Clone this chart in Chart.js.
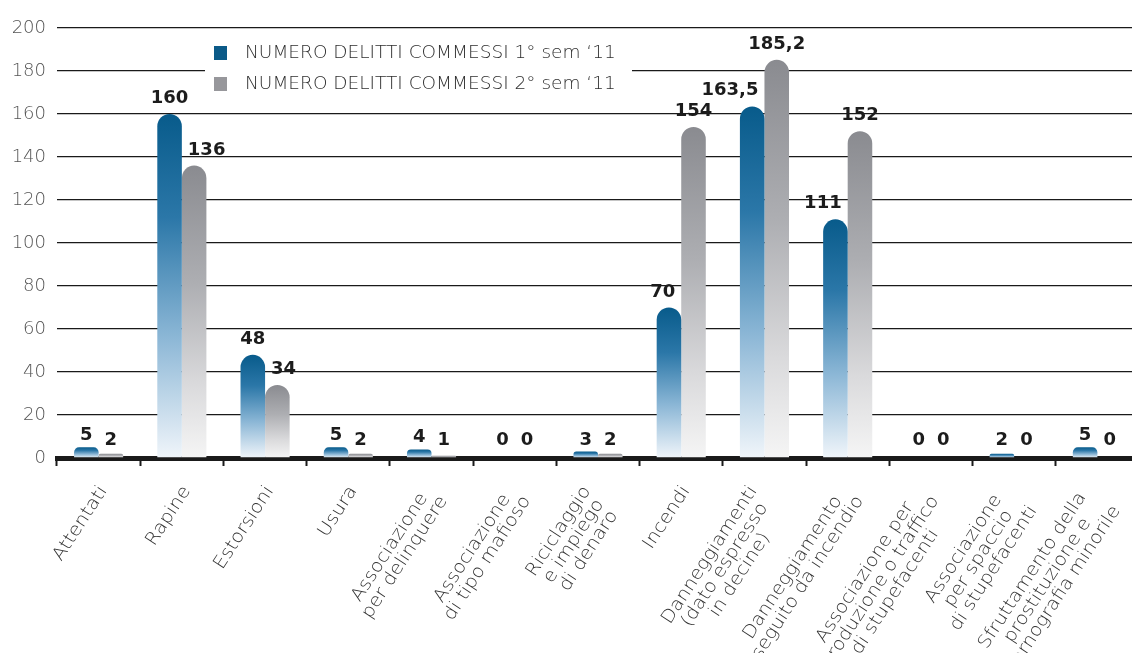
<!DOCTYPE html>
<html>
<head>
<meta charset="utf-8">
<title>Delitti commessi 2011</title>
<script src="https://cdn.jsdelivr.net/npm/chart.js@4.4.1/dist/chart.umd.min.js"></script>
<style>
  html, body { margin: 0; padding: 0; background: #fff; overflow: hidden; }
  #wrap { width: 1132px; height: 653px; overflow: hidden; }
</style>
</head>
<body>
<div id="wrap"><canvas id="delitti" width="1150" height="653"></canvas></div>
<script>
var categories = [
  "Attentati",
  "Rapine",
  "Estorsioni",
  "Usura",
  ["Associazione", "per delinquere"],
  ["Associazione", "di tipo mafioso"],
  ["Riciclaggio", "e impiego", "di denaro"],
  "Incendi",
  ["Danneggiamenti", "(dato espresso", "in decine)"],
  ["Danneggiamento", "seguito da incendio"],
  ["Associazione per", "produzione o traffico", "di stupefacenti"],
  ["Associazione", "per spaccio", "di stupefacenti"],
  ["Sfruttamento della", "prostituzione e", "pornografia minorile"]
];
var sem1 = [5, 160, 48, 5, 4, 0, 3, 70, 163.5, 111, 0, 2, 5];
var sem2 = [2, 136, 34, 2, 1, 0, 2, 154, 185.2, 152, 0, 0, 0];
var seriesNames = ["NUMERO DELITTI COMMESSI 1° sem \u201811", "NUMERO DELITTI COMMESSI 2° sem \u201811"];
var yTicks = [0, 20, 40, 60, 80, 100, 120, 140, 160, 180, 200];

var BLUE = "#0b5a88";
var GREY = "#97979b";

// vertical gradient for each bar, dark at the top, almost white on the axis
function barGradient(stops, fallback) {
  return function(ctx) {
    var chart = ctx.chart;
    if (!chart.chartArea || ctx.raw == null) return fallback;
    var y = chart.scales.y;
    var top = y.getPixelForValue(ctx.raw);
    var bottom = y.getPixelForValue(0);
    if (bottom - top < 1) return fallback;
    var g = chart.ctx.createLinearGradient(0, top, 0, bottom);
    stops.forEach(function(s) { g.addColorStop(s[0], s[1]); });
    return g;
  };
}

var valueLabels = {
  id: "valueLabels",
  afterDatasetsDraw: function(chart) {
    var ctx = chart.ctx;
    var y = chart.scales.y;
    var axisY = y.getPixelForValue(0);
    ctx.save();
    ctx.font = "bold 18px 'DejaVu Sans'";
    ctx.fillStyle = "#1c1c1c";
    ctx.textBaseline = "alphabetic";
    chart.data.datasets.forEach(function(ds, di) {
      var other = chart.data.datasets[1 - di].data;
      chart.getDatasetMeta(di).data.forEach(function(bar, i) {
        var v = ds.data[i];
        var half = bar.width / 2;
        var gap = axisY - bar.y > 30 ? 11 : 7;
        var ty = Math.min(bar.y - gap, axisY - 13);
        var tx = bar.x;
        ctx.textAlign = "center";
        if (other[i] > v) {
          if (di === 0) { ctx.textAlign = "right"; tx = bar.x + half - 6; }
          else { ctx.textAlign = "left"; tx = bar.x - half + 6; }
        }
        ctx.fillText(String(v).replace(".", ","), tx, ty);
      });
    });
    ctx.restore();
  }
};

var legendBox = {
  id: "legendBox",
  afterDatasetsDraw: function(chart) {
    var ctx = chart.ctx;
    ctx.save();
    ctx.fillStyle = "#fff";
    ctx.fillRect(205, 40, 427, 60);
    ctx.font = "200 18.5px 'DejaVu Sans'";
    ctx.textBaseline = "middle";
    ctx.textAlign = "left";
    chart.data.datasets.forEach(function(ds, di) {
      var cy = 53 + di * 31;
      ctx.fillStyle = di === 0 ? BLUE : GREY;
      ctx.fillRect(214, cy - 7, 13, 14);
      ctx.fillStyle = "#2e2e2e";
      ctx.fillText(ds.label, 245, cy);
    });
    ctx.restore();
  }
};

// rotated, centred multi-line category names under the axis
var xLabels = {
  id: "xLabels",
  afterDraw: function(chart) {
    var ctx = chart.ctx;
    var x = chart.scales.x;
    ctx.save();
    ctx.font = "200 18px 'DejaVu Sans'";
    ctx.fillStyle = "#333";
    ctx.textAlign = "center";
    ctx.textBaseline = "middle";
    categories.forEach(function(lab, i) {
      var lines = Array.isArray(lab) ? lab : [lab];
      var w = Math.max.apply(null, lines.map(function(l) { return ctx.measureText(l).width; }));
      ctx.save();
      ctx.translate(x.getPixelForValue(i) + 5 - (lines.length - 1) * 8, x.top + 30);
      ctx.rotate(-57 * Math.PI / 180);
      ctx.scale(1.08, 1);
      lines.forEach(function(l, k) {
        ctx.fillText(l, -w / 2, k * 18);
      });
      ctx.restore();
    });
    ctx.restore();
  }
};

var element_delitti = document.getElementById("delitti");

var data = {
  labels: categories,
  datasets: [
    {
      label: seriesNames[0],
      data: sem1,
      backgroundColor: barGradient([[0, "#085b8b"], [0.3, "#2b77a8"], [0.65, "#8cb7d6"], [1, "#f0f5fa"]], BLUE)
    },
    {
      label: seriesNames[1],
      data: sem2,
      backgroundColor: barGradient([[0, "#8a8b90"], [0.4, "#adaeb2"], [0.75, "#dadadc"], [1, "#f5f5f5"]], GREY)
    }
  ]
};

var options = {
  responsive: false,
  animation: false,
  layout: { padding: { top: 28, right: 11, bottom: 0, left: 0 } },
  datasets: {
    bar: {
      categoryPercentage: 0.59,
      barPercentage: 1.0,
      borderRadius: 13,
      borderSkipped: "start"
    }
  },
  plugins: {
    legend: { display: false },
    tooltip: { enabled: false }
  },
  scales: {
    x: {
      offset: true,
      ticks: { display: false },
      grid: {
        display: true,
        offset: true,
        drawOnChartArea: false,
        drawTicks: true,
        tickLength: 8,
        tickWidth: 2,
        tickColor: "#1a1a1a"
      },
      border: { display: true, width: 5, color: "#1a1a1a" },
      afterFit: function(scale) { scale.height = 195; }
    },
    y: {
      min: 0,
      max: 200,
      afterBuildTicks: function(scale) {
        scale.ticks = yTicks.map(function(v) { return { value: v }; });
      },
      ticks: {
        padding: 11,
        color: "#555",
        font: { family: "DejaVu Sans", size: 18, weight: "200" }
      },
      grid: { color: "#1a1a1a", lineWidth: 1.3, drawTicks: false },
      border: { display: false },
      afterFit: function(scale) { scale.width = 57; }
    }
  }
};

var chart_delitti = new Chart(element_delitti, {
  type: "bar",
  data: data,
  options: options,
  plugins: [valueLabels, legendBox, xLabels]
});
</script>
</body>
</html>
